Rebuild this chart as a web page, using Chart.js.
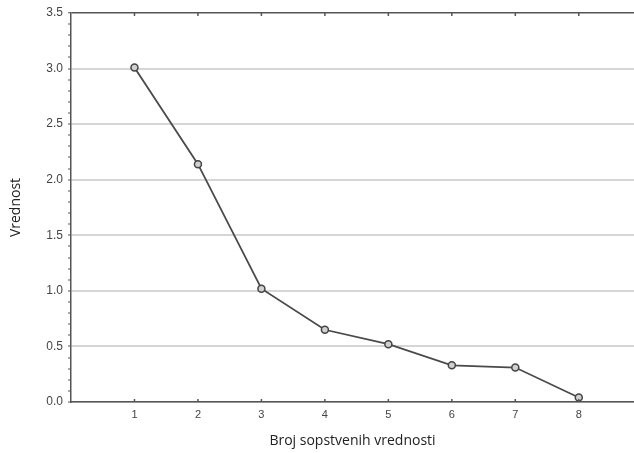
<!DOCTYPE html>
<html>
<head>
<meta charset="utf-8">
<script src="https://cdn.jsdelivr.net/npm/chart.js@4.4.1/dist/chart.umd.min.js"></script>
<style>
    html, body { margin: 0; padding: 0; background: #fff; }
    #wrap { width: 634px; height: 453px; }
</style>
</head>
<body>
<div id="wrap"><canvas id="screeChart" width="634" height="453"></canvas></div>
<script>
// Scree plot data
const componentNumbers = [1, 2, 3, 4, 5, 6, 7, 8];
const eigenValues = [3.01, 2.14, 1.02, 0.65, 0.52, 0.33, 0.31, 0.04];
const xTickLabels = ['1', '2', '3', '4', '5', '6', '7', '8'];
const yTickLabels = ['0.0', '0.5', '1.0', '1.5', '2.0', '2.5', '3.0', '3.5'];

const axisColor = '#555';
const textColor = '#444';

// small inward tick marks on the bottom axis and the top border
const inwardTicks = {
    id: 'inwardTicks',
    afterDraw(chart) {
        const ctx = chart.ctx;
        const x = chart.scales.x;
        const area = chart.chartArea;
        ctx.save();
        ctx.strokeStyle = axisColor;
        ctx.lineWidth = 1.5;
        componentNumbers.forEach(n => {
            const px = x.getPixelForValue(n);
            ctx.beginPath();
            ctx.moveTo(px, area.bottom);
            ctx.lineTo(px, area.bottom - 3);
            ctx.moveTo(px, area.top);
            ctx.lineTo(px, area.top + 3);
            ctx.stroke();
        });
        ctx.restore();
    }
};

function isMajor(v) {
    return Math.abs(v * 2 - Math.round(v * 2)) < 1e-6;
}

new Chart(document.getElementById('screeChart'), {
    type: 'line',
    data: {
        datasets: [{
            data: componentNumbers.map((n, i) => ({ x: n, y: eigenValues[i] })),
            borderColor: '#4a4a4a',
            borderWidth: 1.8,
            pointRadius: 3.5,
            pointBorderWidth: 1.5,
            pointBorderColor: '#444',
            pointBackgroundColor: '#d0d0d0',
            tension: 0,
            fill: false,
            clip: false
        }]
    },
    options: {
        responsive: false,
        animation: false,
        layout: { autoPadding: false, padding: { top: 13, right: 0, bottom: 0, left: 0 } },
        plugins: {
            legend: { display: false },
            tooltip: { enabled: false }
        },
        scales: {
            x: {
                type: 'linear',
                min: 0,
                max: 8.87,
                afterBuildTicks: scale => {
                    scale.ticks = componentNumbers.map(n => ({ value: n }));
                },
                afterFit: scale => { scale.height = 51; },
                ticks: {
                    autoSkip: false,
                    padding: 6,
                    color: textColor,
                    font: { family: 'Liberation Sans', size: 11 },
                    maxRotation: 0,
                    callback: v => xTickLabels[componentNumbers.indexOf(v)] || ''
                },
                grid: { display: false, drawTicks: false },
                border: { display: true, color: axisColor, width: 1.5 },
                title: {
                    display: true,
                    text: 'Broj sopstvenih vrednosti',
                    color: '#222',
                    font: { family: 'Open Sans', size: 14 },
                    padding: { top: 0, bottom: 4 }
                }
            },
            y: {
                min: 0,
                max: 3.5,
                afterBuildTicks: scale => {
                    const t = [];
                    for (let i = 0; i <= 35; i++) t.push({ value: i / 10 });
                    scale.ticks = t;
                },
                afterFit: scale => { scale.width = 71; },
                ticks: {
                    autoSkip: false,
                    padding: 5,
                    color: textColor,
                    font: { family: 'Liberation Sans', size: 12 },
                    callback: v => isMajor(v) ? yTickLabels[Math.round(v * 2)] : ''
                },
                grid: {
                    drawTicks: true,
                    tickLength: 3,
                    tickColor: axisColor,
                    tickWidth: 1.2,
                    color: ctx => {
                        const v = ctx.tick ? ctx.tick.value : 0;
                        if (Math.abs(v - 3.5) < 1e-6) return axisColor;
                        return isMajor(v) ? '#d6d6d6' : 'rgba(0,0,0,0)';
                    },
                    lineWidth: ctx => {
                        const v = ctx.tick ? ctx.tick.value : 0;
                        return Math.abs(v - 3.5) < 1e-6 ? 1.5 : 2;
                    }
                },
                border: { display: true, color: axisColor, width: 1.5 },
                title: {
                    display: true,
                    text: 'Vrednost',
                    color: '#222',
                    font: { family: 'Open Sans', size: 14 },
                    padding: { top: 8, bottom: 0 }
                }
            }
        }
    },
    plugins: [inwardTicks]
});
</script>
</body>
</html>
